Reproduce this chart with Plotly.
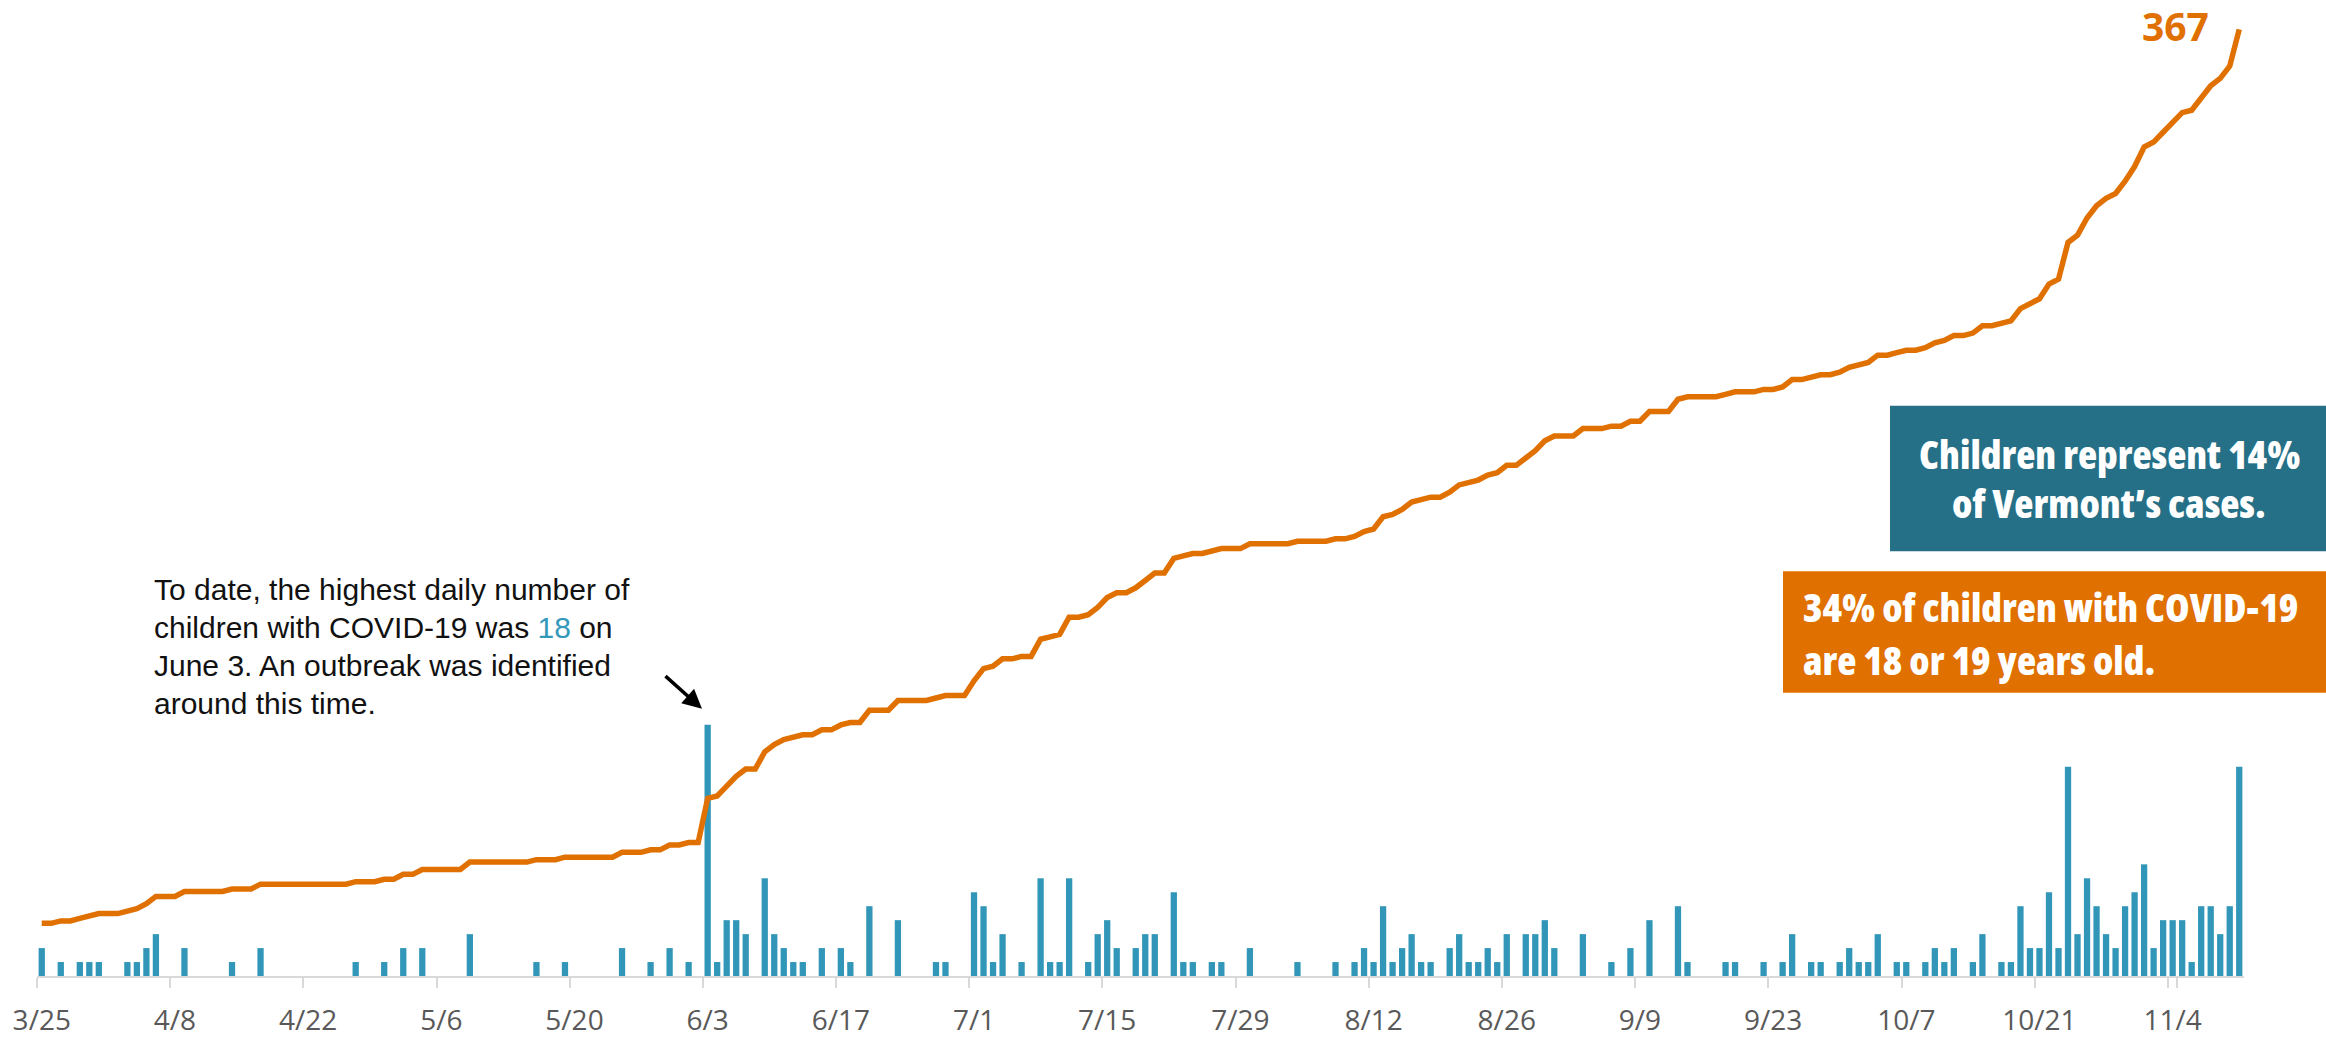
import numpy as np
import pandas as pd
import plotly.graph_objects as go

# ---------------- data ----------------
# daily number of children with COVID-19, 3/25 .. 11/11 (rows of 14 days)
daily_cases = [
    2, 0, 1, 0, 1, 1, 1, 0, 0, 1, 1, 2, 3, 0,
    0, 2, 0, 0, 0, 0, 1, 0, 0, 2, 0, 0, 0, 0,
    0, 0, 0, 0, 0, 1, 0, 0, 1, 0, 2, 0, 2, 0,
    0, 0, 0, 3, 0, 0, 0, 0, 0, 0, 1, 0, 0, 1,
    0, 0, 0, 0, 0, 2, 0, 0, 1, 0, 2, 0, 1, 0,
    18, 1, 4, 4, 3, 0, 7, 3, 2, 1, 1, 0, 2, 0,
    2, 1, 0, 5, 0, 0, 4, 0, 0, 0, 1, 1, 0, 0,
    6, 5, 1, 3, 0, 1, 0, 7, 1, 1, 7, 0, 1, 3,
    4, 2, 0, 2, 3, 3, 0, 6, 1, 1, 0, 1, 1, 0,
    0, 2, 0, 0, 0, 0, 1, 0, 0, 0, 1, 0, 1, 2,
    1, 5, 1, 2, 3, 1, 1, 0, 2, 3, 1, 1, 2, 1,
    3, 0, 3, 3, 4, 2, 0, 0, 3, 0, 0, 1, 0, 2,
    0, 4, 0, 0, 5, 1, 0, 0, 0, 1, 1, 0, 0, 1,
    0, 1, 3, 0, 1, 1, 0, 1, 2, 1, 1, 3, 0, 1,
    1, 0, 1, 2, 1, 2, 0, 1, 3, 0, 1, 1, 5, 2,
    2, 6, 2, 15, 3, 7, 5, 3, 2, 5, 6, 8, 2, 4,
    4, 4, 1, 5, 5, 3, 5, 15,
]
dates = pd.date_range("2020-03-25", "2020-11-11", freq="D")
categories = [f"{d.month}/{d.day}" for d in dates]
cumulative_cases = np.cumsum(daily_cases)  # running total of the daily counts (ends at 367)

tick_labels = ["3/25", "4/8", "4/22", "5/6", "5/20", "6/3", "6/17", "7/1", "7/15",
               "7/29", "8/12", "8/26", "9/9", "9/23", "10/7", "10/21", "11/4"]

final_total_label = "367"
note_lines = [
    "To date, the highest daily number of",
    "children with COVID-19 was <span style='color:#3399BB'>18</span> on",
    "June 3. An outbreak was identified",
    "around this time.",
]
box1_lines = ["Children represent 14%", "of Vermont\u2019s cases."]
box2_lines = ["34% of children with COVID-19", "are 18 or 19 years old."]

# ---------------- styling / layout ----------------
W, H = 2326, 1038
ML, MR, MT, MB = 37, 82, 0, 59
L, R, T, B = ML, W - MR, MT, H - MB

BAR = "#3196B7"
ORANGE = "#E07000"
TEAL_BOX = "#257087"


def px(x):
    return (x - L) / (R - L)


def py(y):
    return (B - y) / (B - T)


fig = go.Figure()
fig.add_trace(go.Bar(x=categories, y=daily_cases, marker=dict(color=BAR, line=dict(width=0)),
                     yaxis="y", showlegend=False))
fig.add_trace(go.Scatter(x=categories, y=cumulative_cases, mode="lines",
                         line=dict(color=ORANGE, width=5.5), yaxis="y2", showlegend=False))

annotations = []
# note text lines
for i, t in enumerate(note_lines):
    annotations.append(dict(xref="paper", yref="paper", x=px(152), y=py(591 + i * 38.3),
                            text=t, showarrow=False, xanchor="left", yanchor="middle",
                            font=dict(family="Liberation Sans, Arial, sans-serif", size=30, color="#111111")))
# arrow
annotations.append(dict(xref="paper", yref="paper", x=px(702), y=py(711), text="",
                        showarrow=True, ax=-38, ay=-34, arrowhead=2, arrowsize=1.1,
                        arrowwidth=3.5, arrowcolor="#000000"))
# box texts (condensed heavy sans)
COND = "<span style='font-stretch:75%;font-weight:800'>{}</span>"
for i, t in enumerate(box1_lines):
    annotations.append(dict(xref="paper", yref="paper", x=px(2109), y=py(455 + i * 50),
                            text=COND.format(t), showarrow=False, xanchor="center", yanchor="middle",
                            font=dict(family="Open Sans, sans-serif", size=39.5, color="white")))
for i, t in enumerate(box2_lines):
    annotations.append(dict(xref="paper", yref="paper", x=px(1801), y=py(609 + i * 53),
                            text=COND.format(t), showarrow=False, xanchor="left", yanchor="middle",
                            font=dict(family="Open Sans, sans-serif", size=39.5, color="white")))
# final total
annotations.append(dict(xref="paper", yref="paper", x=px(2175), y=py(26), text=f"<b>{final_total_label}</b>",
                        showarrow=False, xanchor="center", yanchor="middle",
                        font=dict(family="Open Sans, sans-serif", size=39, color=ORANGE)))

shapes = [
    dict(type="rect", xref="paper", yref="paper", x0=px(1890), x1=px(2330), y0=py(553), y1=py(407),
         fillcolor=TEAL_BOX, line=dict(width=0), layer="above"),
    dict(type="rect", xref="paper", yref="paper", x0=px(1783), x1=px(2330), y0=py(695), y1=py(573),
         fillcolor=ORANGE, line=dict(width=0), layer="above"),
]

fig.update_layout(
    width=W, height=H,
    margin=dict(l=ML, r=MR, t=MT, b=MB, pad=0),
    paper_bgcolor="white", plot_bgcolor="white",
    bargap=0.34,
    xaxis=dict(type="category", categoryorder="array", categoryarray=categories,
               range=[-0.5, len(categories) - 0.5],
               tickmode="array", tickvals=tick_labels, ticktext=tick_labels, tickangle=0,
               tickson="boundaries", ticks="outside", ticklen=10, tickwidth=2, tickcolor="#D9D9D9",
               showline=True, linecolor="#D9D9D9", linewidth=2, showgrid=False,
               tickfont=dict(family="Open Sans, sans-serif", size=28, color="#595959"),
               ticklabelstandoff=18, fixedrange=True),
    yaxis=dict(range=[0, (B - T) / 14.0], visible=False, fixedrange=True),
    yaxis2=dict(range=[-19.5, 379], overlaying="y", visible=False, fixedrange=True),
    annotations=annotations,
    shapes=shapes,
)

fig.write_html("out.html", config={"displayModeBar": False},
               post_script="document.body.style.margin='0';document.body.style.overflow='hidden';")
